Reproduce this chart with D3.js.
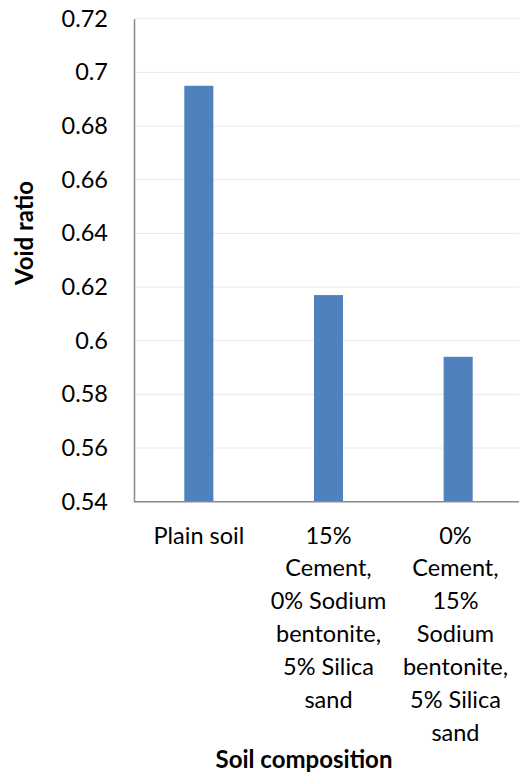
<!DOCTYPE html>
<html>
<head>
<meta charset="utf-8">
<script src="https://cdn.jsdelivr.net/npm/d3@7"></script>
<style>
  html, body { margin: 0; padding: 0; background: #fff; }
  svg { display: block; }
  text { font-family: Lato, "Open Sans", sans-serif; fill: #000; }
</style>
</head>
<body>
<svg id="chart" width="519" height="776"></svg>
<script>
// Void ratio per soil composition
const categories = ["Plain soil", "15% Cement, 0% Sodium bentonite, 5% Silica sand", "0% Cement, 15% Sodium bentonite, 5% Silica sand"];
const categoryLines = [
  ["Plain soil"],
  ["15%", "Cement,", "0% Sodium", "bentonite,", "5% Silica", "sand"],
  ["0%", "Cement,", "15%", "Sodium", "bentonite,", "5% Silica", "sand"]
];
const voidRatio = [0.695, 0.617, 0.594];
const yTicks = [0.54, 0.56, 0.58, 0.6, 0.62, 0.64, 0.66, 0.68, 0.7, 0.72];
const yTickLabels = ["0.54", "0.56", "0.58", "0.6", "0.62", "0.64", "0.66", "0.68", "0.7", "0.72"];

const W = 519, H = 776;
const plot = { left: 134, right: 523, top: 18.7, bottom: 501.7 };
const fontSize = 23.5;
const lineStep = 32.9;

const svg = d3.select("#chart");

const x = d3.scaleBand()
  .domain(categories)
  .range([plot.left, plot.right])
  .paddingInner(0.776)
  .paddingOuter(0.388);

const y = d3.scaleLinear()
  .domain([0.54, 0.72])
  .range([plot.bottom, plot.top]);

// horizontal gridlines
svg.append("g")
  .selectAll("line")
  .data(yTicks.slice(1))
  .join("line")
  .attr("x1", plot.left)
  .attr("x2", W)
  .attr("y1", d => y(d))
  .attr("y2", d => y(d))
  .attr("stroke", "#e8e8e8")
  .attr("stroke-width", 1);

// bars
svg.append("g")
  .selectAll("rect")
  .data(voidRatio)
  .join("rect")
  .attr("x", (d, i) => x(categories[i]))
  .attr("width", x.bandwidth())
  .attr("y", d => y(d))
  .attr("height", d => y(0.54) - y(d))
  .attr("fill", "#4f81bd");

// y axis
const yAxis = d3.axisLeft(y)
  .tickValues(yTicks)
  .tickFormat((d, i) => yTickLabels[i])
  .tickSize(0)
  .tickPadding(26);
const gy = svg.append("g")
  .attr("transform", `translate(${plot.left},0)`)
  .call(yAxis);
gy.select(".domain").attr("stroke", "#898989").attr("stroke-width", 1.5);
gy.selectAll("text")
  .attr("font-size", fontSize)
  .attr("font-family", "Lato, 'Open Sans', sans-serif")
  .attr("fill", "#000");

// x axis line
svg.append("line")
  .attr("x1", plot.left)
  .attr("x2", W)
  .attr("y1", y(0.54))
  .attr("y2", y(0.54))
  .attr("stroke", "#898989")
  .attr("stroke-width", 1.5);

// category labels, wrapped and kept inside the chart edge
const catG = svg.append("g");
categoryLines.forEach((lines, i) => {
  const g = catG.append("g");
  const t = g.append("text")
    .attr("text-anchor", "middle")
    .attr("font-size", fontSize);
  lines.forEach((ln, j) => {
    t.append("tspan")
      .attr("x", 0)
      .attr("y", 543.5 + j * lineStep)
      .text(ln);
  });
  const bb = t.node().getBBox();
  let cx = x(categories[i]) + x.bandwidth() / 2;
  const maxRight = W - 11;
  if (cx + bb.width / 2 > maxRight) cx = maxRight - bb.width / 2;
  g.attr("transform", `translate(${cx},0)`);
});

// axis titles
svg.append("text")
  .attr("x", 304)
  .attr("y", 768)
  .attr("text-anchor", "middle")
  .attr("font-size", 24)
  .attr("font-weight", "bold")
  .text("Soil composition");

svg.append("text")
  .attr("transform", "translate(33,233) rotate(-90)")
  .attr("text-anchor", "middle")
  .attr("font-size", 24)
  .attr("font-weight", "bold")
  .text("Void ratio");
</script>
</body>
</html>
